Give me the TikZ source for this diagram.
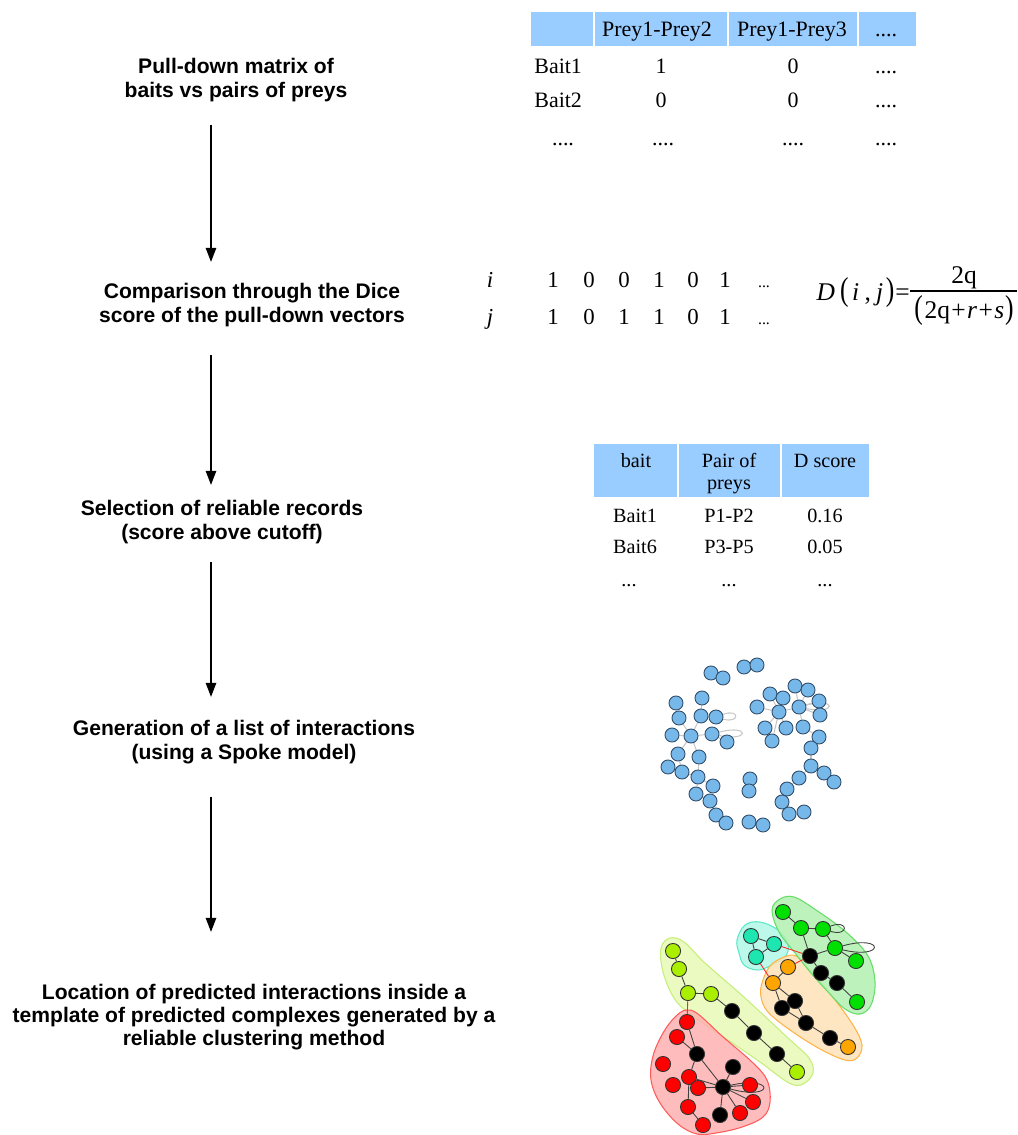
\documentclass[tikz,border=0pt]{standalone}
\usepackage{fontspec}
\setmainfont{Liberation Serif}
\setsansfont{Liberation Sans}
\usetikzlibrary{arrows.meta,calc,backgrounds}
\definecolor{hblue}{HTML}{99CCFF}
\definecolor{nblue}{HTML}{76B8EA}
\definecolor{nbord}{HTML}{2E4A66}
\definecolor{cyg}{HTML}{AAEE00}
\definecolor{cred}{HTML}{FF0000}
\definecolor{ccy}{HTML}{1EE6B0}
\definecolor{cor}{HTML}{FFA500}
\definecolor{cgr}{HTML}{00E000}
\definecolor{hyg}{HTML}{E6F9B6}
\definecolor{hygb}{HTML}{C6EE7A}
\definecolor{hred}{HTML}{FFB0B0}
\definecolor{hredb}{HTML}{FF5A5A}
\definecolor{hcy}{HTML}{B0F8E6}
\definecolor{hcyb}{HTML}{5CE8C8}
\definecolor{hor}{HTML}{FDE2B6}
\definecolor{horb}{HTML}{FFB347}
\definecolor{hgr}{HTML}{B2F0B2}
\definecolor{hgrb}{HTML}{66DD66}
\newcommand{\tallp}[1]{\scalebox{1}[1.3]{#1}}
\begin{document}
\begin{tikzpicture}[x=0.02cm,y=-0.02cm,
  lbl/.style={font=\sffamily\bfseries\fontsize{12}{13.3}\selectfont, align=center, inner sep=0},
  flow/.style={-{Triangle[width=5.8pt,length=8pt]}, line width=1.1pt},
  tt/.style={font=\fontsize{12.5}{14}\selectfont, anchor=base, inner sep=0},
  mt/.style={font=\fontsize{11.5}{13}\selectfont, anchor=base, inner sep=0},
  dt/.style={font=\fontsize{13}{15}\selectfont, anchor=base, inner sep=0},
  ft/.style={font=\fontsize{14.5}{16}\selectfont, anchor=base, inner sep=0},
  hdr/.style={fill=hblue, draw=none},
  bn/.style={circle, inner sep=0, minimum size=8pt, fill=nblue, draw=nbord, line width=0.5pt},
  bedge/.style={draw=black!22, line width=0.6pt},
  cn/.style={circle, inner sep=0, minimum size=8.6pt, draw=black!80, line width=0.5pt},
  cedge/.style={draw=black!75, line width=0.5pt},
  redge/.style={draw=red!85, line width=0.5pt},
  hull/.style={line width=0.6pt, fill opacity=0.85}
]
\useasboundingbox (0,0) rectangle (1017,1135);

% ---------------- left column ----------------
\node[lbl] (t1) at (236,80) {Pull-down matrix of\\baits vs pairs of preys};
\node[lbl] (t2) at (252,305) {Comparison through the Dice\\score of the pull-down vectors};
\node[lbl] (t3) at (222,522) {Selection of reliable records\\(score above cutoff)};
\node[lbl] (t4) at (244,742) {Generation of a list of interactions\\(using a Spoke model)};
\node[lbl] (t5) at (254,1017) {Location of predicted interactions inside a\\template of predicted complexes generated by a\\reliable clustering method};

\coordinate (a1s) at (211,125); \coordinate (a1e) at (211,262);
\coordinate (a2s) at (211,355); \coordinate (a2e) at (211,485);
\coordinate (a3s) at (211,562); \coordinate (a3e) at (211,697);
\coordinate (a4s) at (211,797); \coordinate (a4e) at (211,932);
\draw[flow] (a1s) -- (a1e);
\draw[flow] (a2s) -- (a2e);
\draw[flow] (a3s) -- (a3e);
\draw[flow] (a4s) -- (a4e);

% ---------------- top table ----------------
\fill[hdr] (531,12) rectangle (593,46);
\fill[hdr] (595,12) rectangle (727,46);
\fill[hdr] (729,12) rectangle (857,46);
\fill[hdr] (859,12) rectangle (916,46);
\node[tt] (h1) at (657,37) {Prey1-Prey2};
\node[tt] (h2) at (792,37) {Prey1-Prey3};
\node[tt] (h3) at (886,37) {....};
\node[tt, anchor=base west] (r1a) at (534,74) {Bait1};
\node[tt] (r1b) at (661,74) {1};
\node[tt] (r1c) at (793,74) {0};
\node[tt] (r1d) at (886,74) {....};
\node[tt, anchor=base west] (r2a) at (534,108) {Bait2};
\node[tt] (r2b) at (661,108) {0};
\node[tt] (r2c) at (793,108) {0};
\node[tt] (r2d) at (886,108) {....};
\node[tt] (r3a) at (563,146) {....};
\node[tt] (r3b) at (663,146) {....};
\node[tt] (r3c) at (793,146) {....};
\node[tt] (r3d) at (886,146) {....};

% ---------------- Dice ----------------
\node[dt] (vi) at (490,287) {\textit{i}};
\node[dt] (vj) at (490,324) {\textit{j}};
\foreach \v/\x [count=\k] in {1/553,0/589,0/624,1/659,0/693,1/725}{
  \node[dt] (vi\k) at (\x,287) {\v};}
\foreach \v/\x [count=\k] in {1/553,0/589,1/624,1/659,0/693,1/725}{
  \node[dt] (vj\k) at (\x,324) {\v};}
\node[dt, font=\fontsize{9}{10}\selectfont] (vi7) at (764,287) {...};
\node[dt, font=\fontsize{9}{10}\selectfont] (vj7) at (764,324) {...};
\node[ft, anchor=base east] (dl) at (910,300) {\textit{D}\kern3pt\tallp{(}\kern2pt\textit{i}\kern3pt,\kern3pt\textit{j}\kern1.5pt\tallp{)}\kern0.5pt=};
\node[ft] (dnum) at (964,283) {2q};
\node[ft] (dden) at (964,318) {\tallp{(}\kern1pt2q\kern0.8pt+\kern0.8pt\textit{r}\kern0.8pt+\kern0.8pt\textit{s}\kern0.5pt\tallp{)}};
\coordinate (fb1) at (910,291); \coordinate (fb2) at (1017,291);
\draw[line width=1pt] (fb1) -- (fb2);

% ---------------- middle table ----------------
\fill[hdr] (594,444) rectangle (677,497);
\fill[hdr] (679,444) rectangle (780,497);
\fill[hdr] (782,444) rectangle (869,497);
\node[mt] (m1) at (636,467) {bait};
\node[mt] (m2) at (729,467) {Pair of};
\node[mt] (m2b) at (729,489) {preys};
\node[mt] (m3) at (825,467) {D score};
\node[mt] (m4) at (635,522) {Bait1};
\node[mt] (m5) at (729,522) {P1-P2};
\node[mt] (m6) at (825,522) {0.16};
\node[mt] (m7) at (635,553) {Bait6};
\node[mt] (m8) at (729,553) {P3-P5};
\node[mt] (m9) at (825,553) {0.05};
\node[mt] (m10) at (629,586) {...};
\node[mt] (m11) at (729,586) {...};
\node[mt] (m12) at (825,586) {...};

% ---------------- blue network ----------------
\foreach \n/\x/\y in {b1/711/673,b2/723/678,b3/744/667,b4/757/665,
  b5/676/703,b6/702/698,b7/679/718,b8/701/716,b9/716/717,
  b10/672/735,b11/691/736,b12/712/734,b13/727/742,
  b14/678/754,b15/699/757,b16/668/767,b17/682/772,b18/698/777,b19/713/786,
  b20/696/794,b21/710/801,b22/716/815,b23/726/823,b24/750/779,b25/749/791,
  b26/749/822,b27/763/825,
  c1/795/686,c2/808/690,c3/770/694,c4/783/698,c5/819/701,c6/757/707,
  c7/779/712,c8/799/707,c9/820/715,c10/765/728,c11/786/728,c12/803/727,
  c13/772/741,c14/819/737,c15/811/748,c16/811/766,c17/824/773,c18/834/782,
  c19/799/778,c20/787/789,c21/782/802,c22/789/814,c23/804/812}{
  \node[bn] (\n) at (\x,\y) {};}
\begin{scope}[on background layer]
\foreach \a/\b in {b11/b7,b11/b8,b11/b10,b11/b12,b11/b14,b11/b15,b8/b6,b8/b9,
  b12/b13,b14/b17,b15/b18,b17/b18,b18/b19,b18/b20,b1/b2,b3/b4,b20/b21,b22/b23,
  b24/b25,b26/b27,b16/b17,
  c7/c3,c7/c4,c7/c6,c7/c10,c7/c8,c7/c13,c7/c11,c8/c1,c8/c2,c8/c5,c8/c9,c8/c12,
  c12/c14,c14/c15,c15/c16,c16/c17,c17/c18,c16/c19,c19/c20,c20/c21,c21/c22,c22/c23}{
  \draw[bedge] (\a) -- (\b);}
\draw[bedge] (b9) .. controls ($(b9)+(24,-9)$) and ($(b9)+(24,7)$) .. (b9);
\draw[bedge] (b12) .. controls ($(b12)+(38,-10)$) and ($(b12)+(38,8)$) .. (b12);
\draw[bedge] (c8) .. controls ($(c8)+(38,-10)$) and ($(c8)+(38,8)$) .. (c8);
\end{scope}

% ---------------- clustered network ----------------
\begin{scope}[on background layer]
\filldraw[hull, fill=hyg, draw=hygb] plot[smooth cycle, tension=0.6] coordinates {
  (661,948) (670,938) (684,942) (705,963) (745,998) (788,1038) (809,1058)
  (813,1073) (803,1084) (789,1083) (760,1062) (722,1036) (690,1014) (674,998) (663,972)};
\filldraw[hull, fill=hred, draw=hredb] plot[smooth cycle, tension=0.6] coordinates {
  (686,1010) (698,1014) (722,1036) (752,1062) (767,1080) (770,1102) (763,1117)
  (742,1127) (716,1133) (697,1134) (678,1124) (660,1103) (651,1080) (653,1056)
  (663,1033) (675,1017)};
\filldraw[hull, fill=hcy, draw=hcyb] plot[smooth cycle, tension=0.6] coordinates {
  (737,940) (745,925) (760,922) (778,930) (788,944) (785,957) (770,966)
  (757,970) (744,965) (739,953)};
\filldraw[hull, fill=hor, draw=horb] plot[smooth cycle, tension=0.6] coordinates {
  (762,983) (770,966) (784,957) (796,956) (808,968) (832,996) (853,1025)
  (862,1045) (857,1058) (845,1060) (820,1049) (790,1030) (768,1012) (761,997)};
\filldraw[hull, fill=hgr, draw=hgrb] plot[smooth cycle, tension=0.6] coordinates {
  (772,910) (780,899) (794,897) (816,910) (846,932) (868,956) (875,982)
  (871,1005) (860,1014) (845,1009) (829,993) (811,973) (795,953) (779,932)};
\end{scope}

\foreach \n/\x/\y/\c in {y1/673/951/cyg,y2/679/969/cyg,y3/688/993/cyg,y4/711/994/cyg,y5/797/1072/cyg,
  k1/732/1011/black,k2/754/1033/black,k3/777/1054/black,
  r1/687/1022/cred,r2/677/1037/cred,r3/663/1064/cred,r4/673/1085/cred,r5/689/1077/cred,
  r6/698/1088/cred,r7/688/1107/cred,r8/703/1125/cred,r9/750/1085/cred,r10/753/1102/cred,r11/740/1113/cred,
  k4/697/1054/black,k5/733/1067/black,k6/723/1087/black,k7/720/1115/black,
  q1/751/936/ccy,q2/774/944/ccy,q3/756/957/ccy,
  o1/788/967/cor,o2/773/983/cor,o3/848/1047/cor,
  k8/795/1001/black,k9/782/1008/black,k10/806/1023/black,k11/830/1038/black,
  g1/783/912/cgr,g2/801/928/cgr,g3/823/929/cgr,g4/835/948/cgr,g5/856/961/cgr,g6/857/1002/cgr,
  k12/810/956/black,k13/821/973/black,k14/837/983/black}{
  \node[cn, fill=\c] (\n) at (\x,\y) {};}

\begin{scope}[on background layer]
\foreach \a/\b in {y1/y2,y2/y3,y3/y4,y4/k1,k1/k2,k2/k3,k3/y5,
  r1/k4,r2/k4,k4/r5,k4/k6,r5/r6,r5/r7,r5/k6,r6/k6,k6/k5,k6/r9,k6/r10,k6/r11,k6/k7,r7/r8,
  q1/q2,q1/q3,q2/q3,
  o1/o2,o2/k9,o2/k8,k8/k10,k9/k10,k10/k11,k11/o3,
  g1/g2,g2/g3,g2/k12,k12/g4,g3/g4,g4/g5,k12/k13,k13/k14,k14/g6}{
  \draw[cedge] (\a) -- (\b);}
\foreach \a/\b in {y3/r1,q2/k12,q3/o2,o1/k12}{
  \draw[redge] (\a) -- (\b);}
\draw[cedge] (g3) .. controls ($(g3)+(26,-10)$) and ($(g3)+(26,8)$) .. (g3);
\draw[cedge] (g4) .. controls ($(g4)+(50,-14)$) and ($(g4)+(50,12)$) .. (g4);
\draw[cedge] (k6) .. controls ($(k6)+(52,-12)$) and ($(k6)+(52,14)$) .. (k6);
\end{scope}
\end{tikzpicture}
\end{document}
